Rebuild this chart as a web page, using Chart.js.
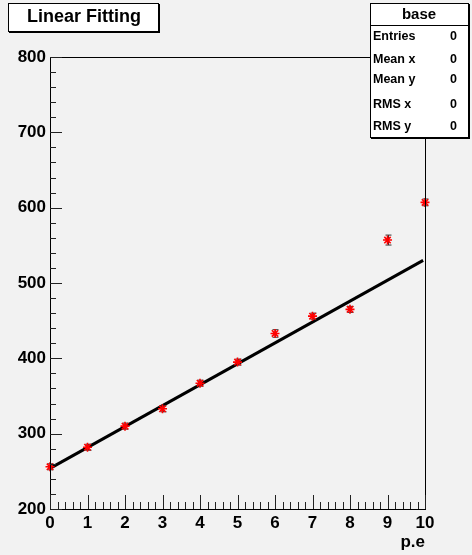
<!DOCTYPE html>
<html>
<head>
<meta charset="utf-8">
<script src="https://cdn.jsdelivr.net/npm/chart.js@4"></script>
<style>
    html, body { margin: 0; padding: 0; background: #f2f2f2; }
    canvas { display: block; }
</style>
</head>
<body>
<canvas id="fitChart" width="472" height="555"></canvas>
<script>
// values
const peValues = [0, 1, 2, 3, 4, 5, 6, 7, 8, 9, 10];
const measured = [256, 282, 310, 333, 367, 395, 433, 456, 465, 557, 607];
const errors   = [4, 4, 4, 4, 4, 4, 5, 4, 4, 6.6, 4.5];
const fitX = [0, 9.95];
const fitY = [254, 530];

const titleText = "Linear Fitting";
const statsTitle = "base";
const statsNames = ["Entries", "Mean x", "Mean y", "RMS x", "RMS y"];
const statsValues = ["0", "0", "0", "0", "0"];

const FONT = "'Liberation Sans', Arial, Helvetica, sans-serif";

const rootStyle = {
    id: 'rootStyle',
    beforeDraw(chart) {
        const c = chart.ctx;
        c.save();
        c.fillStyle = '#f2f2f2';
        c.fillRect(0, 0, chart.width, chart.height);
        c.restore();
    },
    afterDatasetDraw(chart, args) {
        // error bars, on top of the fit line and under the markers
        if (args.index !== 1) return;
        const c = chart.ctx;
        const xs = chart.scales.x, ys = chart.scales.y;
        c.save();
        c.strokeStyle = '#333';
        c.lineWidth = 1;
        peValues.forEach((v, i) => {
            const px = Math.round(xs.getPixelForValue(v)) + 0.5;
            const y1 = ys.getPixelForValue(measured[i] - errors[i]);
            const y2 = ys.getPixelForValue(measured[i] + errors[i]);
            c.beginPath();
            c.moveTo(px, y1); c.lineTo(px, y2);
            c.moveTo(px - 3, y1); c.lineTo(px + 3, y1);
            c.moveTo(px - 3, y2); c.lineTo(px + 3, y2);
            c.stroke();
        });
        c.restore();
    },
    afterDraw(chart) {
        const c = chart.ctx;
        const a = chart.chartArea;
        const xs = chart.scales.x, ys = chart.scales.y;
        c.save();

        // frame
        c.strokeStyle = '#000';
        c.lineWidth = 1;
        c.strokeRect(Math.round(a.left) + 0.5, Math.round(a.top) + 0.5,
                     Math.round(a.right - a.left), Math.round(a.bottom - a.top));

        // inward ticks, like ROOT
        c.strokeStyle = '#222';
        c.beginPath();
        for (let k = 0; k <= 50; k++) {
            const v = xs.min + k * 0.2;
            const px = Math.round(xs.getPixelForValue(v)) + 0.5;
            const len = (k % 5 === 0) ? 14 : 7;
            c.moveTo(px, a.bottom);
            c.lineTo(px, a.bottom - len);
        }
        for (let k = 0; k <= 30; k++) {
            const v = ys.min + k * 20;
            const py = Math.round(ys.getPixelForValue(v)) + 0.5;
            const len = (k % 5 === 0) ? 12 : 6;
            c.moveTo(a.left, py);
            c.lineTo(a.left + len, py);
        }
        c.stroke();

        // title box
        c.fillStyle = '#fff';
        c.fillRect(8, 3, 151, 29);
        c.fillStyle = '#000';
        c.fillRect(9, 31, 151, 2);
        c.fillRect(158, 4, 2, 29);
        c.strokeStyle = '#000';
        c.strokeRect(8.5, 3.5, 150, 28);
        c.font = `bold 18px ${FONT}`;
        c.textAlign = 'center';
        c.textBaseline = 'middle';
        c.fillText(titleText, 84, 17);

        // stats box
        c.fillStyle = '#fff';
        c.fillRect(370, 3, 99, 135);
        c.fillStyle = '#000';
        c.fillRect(371, 137, 99, 2);
        c.fillRect(468, 4, 2, 135);
        c.strokeRect(370.5, 3.5, 98, 134);
        c.beginPath();
        c.moveTo(370, 25.5); c.lineTo(469, 25.5);
        c.stroke();
        c.font = `bold 15px ${FONT}`;
        c.textAlign = 'center';
        c.fillText(statsTitle, 419, 14.5);
        const rowY = [37, 60, 80, 105, 127];
        c.font = `bold 12.5px ${FONT}`;
        statsNames.forEach((name, i) => {
            c.textAlign = 'left';
            c.fillText(name, 373, rowY[i]);
            c.textAlign = 'right';
            c.fillText(statsValues[i], 457, rowY[i]);
        });
        c.restore();
    }
};

const ctx = document.getElementById('fitChart').getContext('2d');
new Chart(ctx, {
    type: 'scatter',
    data: {
        datasets: [{
            label: 'data',
            data: peValues.map((v, i) => ({ x: v, y: measured[i] })),
            pointStyle: 'star',
            pointRadius: 4.5,
            pointBorderWidth: 1.6,
            borderColor: '#ff0000',
            backgroundColor: '#ff0000',
            clip: false,
            order: 0
        }, {
            label: 'fit',
            type: 'line',
            data: fitX.map((v, i) => ({ x: v, y: fitY[i] })),
            borderColor: '#000',
            borderWidth: 3,
            pointRadius: 0,
            fill: false,
            tension: 0,
            clip: false,
            order: 1
        }]
    },
    options: {
        responsive: false,
        devicePixelRatio: 1,
        animation: false,
        layout: { padding: { left: 0, top: 57, right: 47, bottom: 0 } },
        plugins: {
            legend: { display: false },
            tooltip: { enabled: false },
            title: { display: false }
        },
        scales: {
            x: {
                type: 'linear',
                min: 0,
                max: 10,
                afterFit: s => { s.height = 46; },
                grid: { display: false, drawTicks: false },
                border: { display: false },
                ticks: {
                    stepSize: 1,
                    padding: 4,
                    color: '#000',
                    font: { family: FONT, size: 17, weight: 'bold' }
                },
                title: {
                    display: true,
                    text: 'p.e',
                    align: 'end',
                    color: '#000',
                    padding: { top: 0, bottom: 2 },
                    font: { family: FONT, size: 17, weight: 'bold' }
                }
            },
            y: {
                type: 'linear',
                min: 200,
                max: 800,
                afterFit: s => { s.width = 50; },
                grid: { display: false, drawTicks: false },
                border: { display: false },
                ticks: {
                    stepSize: 100,
                    padding: 4,
                    color: '#000',
                    font: { family: FONT, size: 17, weight: 'bold' }
                }
            }
        }
    },
    plugins: [rootStyle]
});
</script>
</body>
</html>
